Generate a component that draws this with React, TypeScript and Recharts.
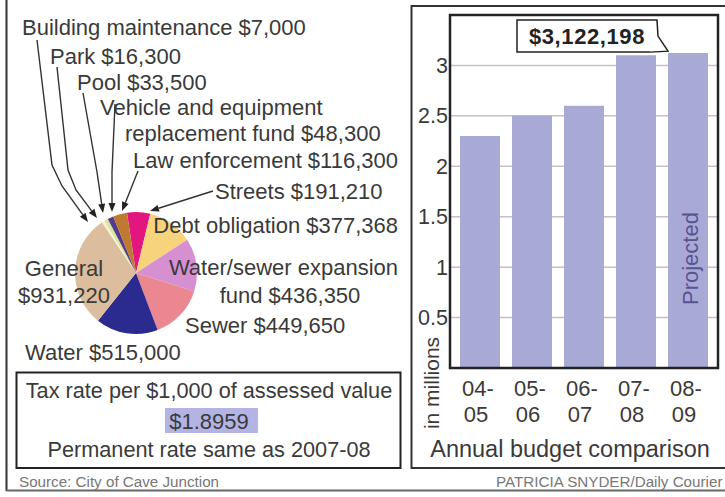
import React from "react";
import { PieChart, Pie, Cell, BarChart, Bar, XAxis, YAxis, CartesianGrid, LabelList } from "recharts";

const FONT = '"Liberation Sans", Arial, Helvetica, sans-serif';
const INK = "#3a3a3a";

// General fund breakdown, clockwise from the top
const sliceNames = [
  "Streets",
  "Debt obligation",
  "Water/sewer expansion fund",
  "Sewer",
  "Water",
  "General",
  "Building maintenance",
  "Park",
  "Pool",
  "Vehicle and equipment replacement fund",
  "Law enforcement",
];
const sliceValues = [191210, 377368, 436350, 449650, 515000, 931220, 7000, 16300, 33500, 48300, 116300];
const sliceColors = [
  "#e3167f", "#f7d47c", "#d690d2", "#ea8790", "#2b2b8f", "#dcbd9e",
  "#e6e9a6", "#f3f3dc", "#dde39a", "#553b8b", "#c07930",
];

// Annual budget comparison (millions)
const years = ["04-05", "05-06", "06-07", "07-08", "08-09"];
const budgetMillions = [2.3, 2.5, 2.6, 3.1, 3.122];
const barNotes = ["", "", "", "", "Projected"];
const barCallouts = ["", "", "", "", "$3,122,198"];
const yTicks = [0.5, 1, 1.5, 2, 2.5, 3];

const taxLines = ["Tax rate per $1,000 of assessed value", "$1.8959", "Permanent rate same as 2007-08"];

const pieData = sliceNames.map((name, i) => ({ name, value: sliceValues[i] }));
const barData = years.map((year, i) => ({
  year,
  value: budgetMillions[i],
  note: barNotes[i],
  callout: barCallouts[i],
}));

type Anchor = "start" | "middle" | "end";
const labelLayout: { lines: [number, number, Anchor][]; breakAt: number; route?: [number, number][] }[] = [
  { lines: [[215, 191, "start"]], breakAt: 0, route: [[213, 191], [150, 211]] },
  { lines: [[398, 225, "end"]], breakAt: 0 },
  { lines: [[398, 267, "end"], [290, 295, "middle"]], breakAt: 2 },
  { lines: [[185, 325, "start"]], breakAt: 0 },
  { lines: [[25, 352, "start"]], breakAt: 0 },
  { lines: [[64, 268, "middle"], [64, 295, "middle"]], breakAt: 1 },
  { lines: [[22, 27, "start"]], breakAt: 0, route: [[37, 40], [52, 165], [62, 186], [88, 222]] },
  { lines: [[50, 56, "start"]], breakAt: 0, route: [[57, 67], [68, 170], [76, 190], [97, 218]] },
  { lines: [[77, 82, "start"]], breakAt: 0, route: [[83, 93], [97, 172], [103, 213]] },
  { lines: [[100, 107, "start"], [125, 133, "start"]], breakAt: 3, route: [[115, 104], [112, 172], [112, 212]] },
  { lines: [[398, 160, "end"]], breakAt: 0, route: [[138, 171], [122, 211]] },
];

function arrowHead(from: [number, number], tip: [number, number], len = 9, half = 3.5) {
  const dx = tip[0] - from[0];
  const dy = tip[1] - from[1];
  const d = Math.hypot(dx, dy) || 1;
  const ux = dx / d;
  const uy = dy / d;
  const bx = tip[0] - ux * len;
  const by = tip[1] - uy * len;
  return {
    path: `M${tip[0]},${tip[1]} L${bx - uy * half},${by + ux * half} L${bx + uy * half},${by - ux * half} Z`,
    base: [bx, by] as [number, number],
  };
}

function SliceLabel(props: any) {
  const { index, name, value } = props;
  const lay = labelLayout[index];
  if (!lay) return null;
  const full = `${name} $${Number(value).toLocaleString("en-US")}`;
  const words = full.split(" ");
  const texts = lay.breakAt ? [words.slice(0, lay.breakAt).join(" "), words.slice(lay.breakAt).join(" ")] : [full];
  let arrow = null;
  if (lay.route) {
    const pts = lay.route;
    const tip = pts[pts.length - 1];
    const head = arrowHead(pts[pts.length - 2], tip);
    const line = [...pts.slice(0, -1), head.base].map((p) => p.join(",")).join(" ");
    arrow = (
      <g>
        <polyline points={line} fill="none" stroke="#333" strokeWidth={1.4} />
        <path d={head.path} fill="#222" />
      </g>
    );
  }
  return (
    <g>
      {arrow}
      {texts.map((t, i) => (
        <text
          key={i}
          x={lay.lines[i][0]}
          y={lay.lines[i][1]}
          dy="0.35em"
          textAnchor={lay.lines[i][2]}
          fontFamily={FONT}
          fontSize={22}
          fill={INK}
        >
          {t}
        </text>
      ))}
    </g>
  );
}

function YearTick(props: any) {
  const { x, y, payload } = props;
  const [a, b] = String(payload.value).split("-");
  return (
    <g>
      <text x={x - 2} y={y + 26} textAnchor="middle" fontFamily={FONT} fontSize={22} fill={INK}>
        {a}-
      </text>
      <text x={x - 4} y={y + 52} textAnchor="middle" fontFamily={FONT} fontSize={22} fill={INK}>
        {b}
      </text>
    </g>
  );
}

function box(props: any) {
  const vb = props.viewBox || {};
  return {
    x: props.x ?? vb.x,
    y: props.y ?? vb.y,
    width: props.width ?? vb.width,
    height: props.height ?? vb.height,
  };
}

function ProjectedLabel(props: any) {
  if (!props.value) return null;
  const { x, y, width, height } = box(props);
  const px = x + width / 2 + 2;
  const py = y + height - 63;
  return (
    <text
      x={px}
      y={py}
      dy="0.35em"
      transform={`rotate(-90 ${px} ${py})`}
      textAnchor="start"
      fontFamily={FONT}
      fontSize={22}
      fill="#55558f"
    >
      {props.value}
    </text>
  );
}

function CalloutLabel(props: any) {
  if (!props.value) return null;
  const { x, y } = box(props);
  const tipX = x;
  const tipY = y - 2;
  const left = x - 151;
  const right = x - 11;
  const top = y - 33;
  const bottom = y - 1;
  const d = `M${left},${top} L${right},${top} L${right + 1},${top + 16} L${tipX},${tipY} L${right - 7},${bottom} L${left},${bottom} Z`;
  return (
    <g>
      <path d={d} fill="#fff" stroke="#222" strokeWidth={1.5} />
      <text
        x={(left + right) / 2}
        y={(top + bottom) / 2}
        dy="0.36em"
        textAnchor="middle"
        fontFamily={FONT}
        fontWeight="bold"
        fontSize={22}
        letterSpacing={0.6}
        fill="#222"
      >
        {props.value}
      </text>
    </g>
  );
}

export default function App() {
  return (
    <div style={{ position: "absolute", left: 0, top: 0, width: 725, height: 497, background: "#fff", overflow: "hidden" }}>
      <div style={{ position: "absolute", left: 0, top: 0 }}>
        <PieChart width={410} height={370} margin={{ top: 0, right: 0, bottom: 0, left: 0 }}>
          <Pie
            data={pieData}
            dataKey="value"
            nameKey="name"
            cx={136}
            cy={273}
            outerRadius={61}
            startAngle={98.5}
            endAngle={-261.5}
            stroke="none"
            label={SliceLabel}
            labelLine={false}
            isAnimationActive={false}
          >
            {pieData.map((d, i) => (
              <Cell key={d.name} fill={sliceColors[i]} />
            ))}
          </Pie>
        </PieChart>
      </div>

      <div style={{ position: "absolute", left: 405, top: 0 }}>
        <BarChart width={320} height={470} data={barData} margin={{ top: 15, right: 7, bottom: 42, left: 5 }}>
          <CartesianGrid vertical={false} stroke="#c2c2c2" strokeWidth={1.5} />
          <XAxis
            dataKey="year"
            axisLine={false}
            tickLine={false}
            tickSize={0}
            tickMargin={2}
            height={60}
            interval={0}
            padding={{ left: 4, right: 4 }}
            tick={<YearTick />}
          />
          <YAxis
            domain={[0, 3.5]}
            ticks={yTicks}
            width={40}
            axisLine={false}
            tickLine={false}
            tickSize={0}
            tickMargin={2}
            allowDataOverflow
            tick={{ fontSize: 21.5, fill: INK, fontFamily: FONT }}
          />
          <Bar dataKey="value" fill="#a9a9d6" barSize={40} isAnimationActive={false}>
            <LabelList dataKey="note" content={ProjectedLabel} />
            <LabelList dataKey="callout" content={CalloutLabel} />
          </Bar>
        </BarChart>
      </div>

      <svg width={725} height={497} style={{ position: "absolute", left: 0, top: 0, pointerEvents: "none" }}>
        <line x1={6.5} y1={0} x2={6.5} y2={491} stroke="#333" strokeWidth={2} />
        <line x1={6} y1={490.5} x2={725} y2={490.5} stroke="#666" strokeWidth={2} />

        <rect x={16.5} y={372.5} width={384} height={95.5} fill="none" stroke="#222" strokeWidth={2} />
        <rect x={165} y={408} width={93} height={25} fill="#b4b4e4" />
        {taxLines.map((t, i) => (
          <text
            key={t}
            x={209}
            y={[390, 421, 449][i]}
            dy="0.35em"
            textAnchor="middle"
            fontFamily={FONT}
            fontSize={i === 1 ? 22 : 21.7}
            fill={INK}
          >
            {t}
          </text>
        ))}

        <rect x={411.5} y={6} width={330} height={462} fill="none" stroke="#333" strokeWidth={2} />
        <rect x={450} y={15} width={268} height={353} fill="none" stroke="#222" strokeWidth={2.5} />
        <text
          x={432}
          y={383}
          dy="0.35em"
          transform="rotate(-90 432 383)"
          textAnchor="middle"
          fontFamily={FONT}
          fontSize={21}
          fill={INK}
        >
          in millions
        </text>
        <text x={570} y={457} textAnchor="middle" fontFamily={FONT} fontSize={23.5} fill={INK}>
          Annual budget comparison
        </text>

        <text x={19} y={487} fontFamily={FONT} fontSize={15.2} fill="#777">
          Source: City of Cave Junction
        </text>
        <text x={496} y={487} fontFamily={FONT} fontSize={15.2} fill="#777">
          PATRICIA SNYDER/Daily Courier
        </text>
      </svg>
    </div>
  );
}
